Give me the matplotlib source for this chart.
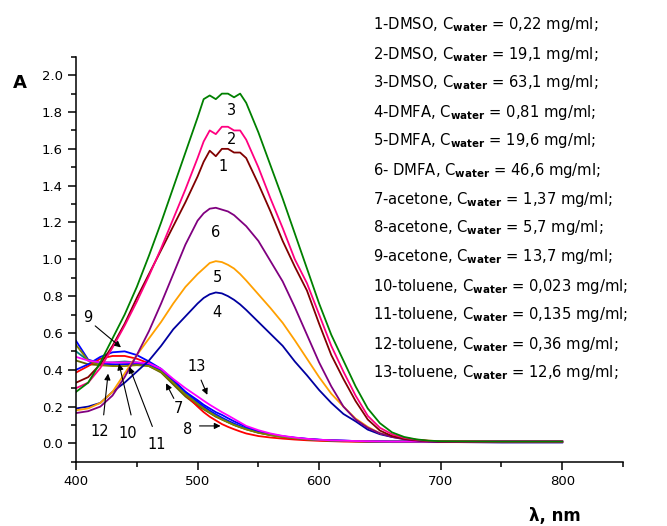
import matplotlib
matplotlib.use('Agg')
import matplotlib.pyplot as plt
from matplotlib.ticker import MultipleLocator, FormatStrFormatter

# wavelength grid (nm)
wl = [400, 410, 420, 430, 440, 450, 460, 470, 480, 490, 500, 505, 510, 515, 520, 525,
      530, 535, 540, 550, 560, 570, 580, 590, 600, 610, 620, 630, 640, 650, 660, 670,
      680, 690, 700, 750, 800]

# absorbance
a1 = [.33, .36, .43, .53, .65, .79, .92, 1.05, 1.18, 1.31, 1.45, 1.53, 1.59, 1.56, 1.60, 1.60,
      1.58, 1.58, 1.55, 1.41, 1.26, 1.10, .96, .83, .65, .48, .35, .23, .13, .07, .04, .025,
      .018, .013, .01, .01, .01]
a2 = [.30, .33, .41, .52, .64, .77, .91, 1.06, 1.22, 1.38, 1.55, 1.64, 1.70, 1.68, 1.72, 1.72,
      1.70, 1.70, 1.65, 1.50, 1.33, 1.17, 1.00, .87, .70, .53, .39, .26, .15, .085, .05, .03,
      .02, .014, .012, .01, .01]
a3 = [.28, .33, .44, .57, .70, .85, 1.02, 1.20, 1.39, 1.58, 1.77, 1.87, 1.89, 1.87, 1.90, 1.90,
      1.88, 1.90, 1.85, 1.69, 1.51, 1.33, 1.14, .95, .76, .59, .45, .31, .19, .11, .06, .035,
      .022, .015, .012, .01, .01]
a4 = [.19, .20, .22, .28, .33, .39, .45, .53, .62, .69, .76, .79, .81, .82, .815, .80,
      .78, .755, .725, .66, .595, .53, .445, .37, .29, .22, .16, .12, .075, .05, .035, .025,
      .018, .012, .008, .005, .005]
a5 = [.18, .19, .22, .28, .38, .48, .57, .66, .76, .85, .92, .95, .98, .99, .985, .97,
      .95, .92, .885, .81, .735, .655, .56, .46, .36, .27, .20, .135, .09, .055, .04, .03,
      .02, .015, .012, .008, .008]
a6 = [.165, .175, .20, .26, .36, .48, .61, .76, .92, 1.08, 1.21, 1.25, 1.275, 1.28, 1.27, 1.26,
      1.24, 1.21, 1.18, 1.10, .99, .88, .74, .59, .44, .31, .20, .13, .085, .055, .035, .022,
      .015, .01, .008, .008, .008]
a7 = [.45, .43, .425, .425, .43, .43, .42, .385, .32, .255, .205, .185, .165, .145, .13, .115,
      .10, .088, .077, .058, .045, .035, .028, .022, .018, .015, .013, .012, .011, .01, .01, .01,
      .01, .01, .01, .01, .01]
a8 = [.385, .42, .46, .475, .475, .46, .435, .40, .335, .265, .20, .17, .145, .125, .105, .09,
      .077, .065, .054, .04, .032, .026, .021, .017, .014, .012, .01, .009, .008, .008, .007, .007,
      .007, .007, .007, .007, .007]
a9 = [.40, .43, .47, .495, .50, .48, .445, .405, .345, .28, .225, .20, .178, .158, .14, .123,
      .108, .094, .082, .062, .048, .038, .03, .024, .02, .017, .015, .013, .012, .011, .01, .01,
      .01, .01, .01, .01, .01]
a10 = [.50, .45, .44, .44, .445, .44, .43, .395, .335, .27, .215, .19, .17, .15, .133, .117,
       .102, .09, .079, .06, .046, .036, .029, .023, .019, .016, .014, .012, .011, .01, .01, .01,
       .01, .01, .01, .01, .01]
a11 = [.557, .455, .435, .43, .43, .435, .43, .40, .34, .28, .235, .21, .19, .17, .155, .137,
       .12, .105, .09, .066, .05, .039, .031, .025, .02, .017, .015, .013, .012, .011, .01, .01,
       .01, .01, .01, .01, .01]
a12 = [.535, .45, .425, .42, .42, .425, .42, .39, .33, .265, .215, .19, .168, .148, .13, .115,
       .10, .088, .076, .058, .045, .035, .028, .022, .018, .015, .013, .012, .011, .01, .01, .01,
       .01, .01, .01, .01, .01]
a13 = [.47, .45, .44, .44, .44, .44, .435, .405, .35, .30, .255, .232, .21, .19, .17, .152,
       .133, .114, .095, .072, .054, .041, .032, .025, .02, .017, .015, .013, .012, .011, .01, .01,
       .01, .01, .01, .01, .01]

solvents = ['DMSO', 'DMSO', 'DMSO', 'DMFA', 'DMFA', ' DMFA', 'acetone', 'acetone', 'acetone',
            'toluene', 'toluene', 'toluene', 'toluene']
c_water = ['0,22', '19,1', '63,1', '0,81', '19,6', '46,6', '1,37', '5,7', '13,7',
           '0,023', '0,135', '0,36', '12,6']

colors = ['#800000', '#ff0080', '#008000', '#0000a0', '#ffa000', '#800080',
          '#606000', '#ff0000', '#0000ff', '#008080', '#0000ff', '#808000', '#ff00ff']

curves = [a1, a2, a3, a4, a5, a6, a7, a8, a9, a10, a11, a12, a13]

fig = plt.figure(figsize=(6.67, 5.26), dpi=100)
ax = fig.add_axes([0.114, 0.122, 0.820, 0.770])

# low curves first, the big peaks on top
for i in [6, 7, 8, 9, 10, 11, 12, 3, 4, 5, 0, 1, 2]:
    ax.plot(wl, curves[i], color=colors[i], lw=1.3)

ax.set_xlim(400, 850)
ax.set_ylim(-0.1, 2.1)
ax.spines['top'].set_visible(False)
ax.spines['right'].set_visible(False)
ax.spines['left'].set_linewidth(1.1)
ax.spines['bottom'].set_linewidth(1.1)
ax.xaxis.set_major_locator(MultipleLocator(100))
ax.xaxis.set_minor_locator(MultipleLocator(50))
ax.yaxis.set_major_locator(MultipleLocator(0.2))
ax.yaxis.set_minor_locator(MultipleLocator(0.1))
ax.yaxis.set_major_formatter(FormatStrFormatter('%.1f'))
ax.set_xticks([400, 500, 600, 700, 800])
ax.tick_params(which='major', direction='out', length=6, width=1.1, labelsize=9.5)
ax.tick_params(which='minor', direction='out', length=3.5, width=1.1)

# numbers on the peaks
peak_lbl = [('3', 528, 1.81), ('2', 528, 1.65), ('1', 521, 1.505), ('6', 515, 1.145),
            ('5', 516, 0.90), ('4', 516, 0.71)]
for t, x, y in peak_lbl:
    ax.text(x, y, t, fontsize=10.5, ha='center', va='center')

# numbered arrows for the low curves
arrows = [('9', (410, 0.686), (414, 0.648), (438.7, 0.512)),
          ('12', (419.8, 0.067), (422.5, 0.14), (426.6, 0.394)),
          ('10', (442.8, 0.056), (445.8, 0.14), (434.8, 0.448)),
          ('11', (466.7, -0.004), (463.6, 0.078), (443, 0.43)),
          ('7', (484, 0.187), (481.5, 0.231), (473, 0.34)),
          ('13', (499.6, 0.42), (502, 0.358), (508.9, 0.25)),
          ('8', (492.2, 0.078), (499.3, 0.095), (521.2, 0.095))]
for t, tp, tail, head in arrows:
    ax.text(tp[0], tp[1], t, fontsize=10.5, ha='center', va='center')
    ax.annotate('', xy=head, xytext=tail,
                arrowprops=dict(arrowstyle='-|>', color='k', lw=0.8, mutation_scale=9))

# legend text on the right
for i in range(13):
    s = '%d-%s, C$_{\\mathbf{water}}$ = %s mg/ml;' % (i + 1, solvents[i], c_water[i])
    fig.text(373 / 667, 1 - (25 + 29 * i) / 526, s, fontsize=10.6, ha='left', va='center')

fig.text(20 / 667, 1 - 83 / 526, 'A', fontsize=13, fontweight='bold', ha='center', va='center')
fig.text(555 / 667, 1 - 516 / 526, 'λ, nm', fontsize=12, fontweight='bold', ha='center', va='center')

fig.savefig('out.png', dpi=100)
